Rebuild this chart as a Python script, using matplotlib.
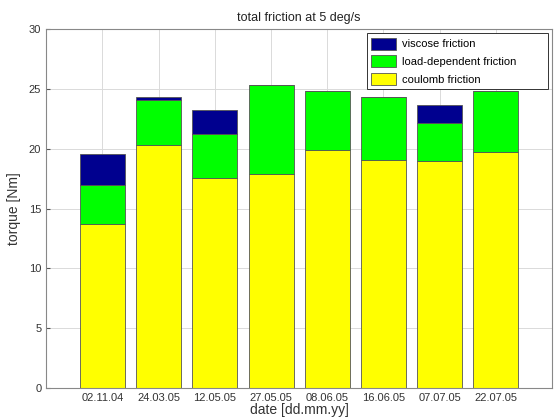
import numpy as np
import matplotlib.pyplot as plt

dates = ['02.11.04', '24.03.05', '12.05.05', '27.05.05', '08.06.05', '16.06.05', '07.07.05', '22.07.05']
coulomb = [13.7, 20.3, 17.6, 17.9, 19.9, 19.05, 18.95, 19.75]
load_dep = [3.25, 3.77, 3.6, 7.4, 4.9, 5.25, 3.2, 5.05]
viscose = [2.65, 0.28, 2.05, 0.05, 0.0, 0.0, 1.55, 0.0]

plt.rcParams['font.family'] = ['Liberation Sans', 'DejaVu Sans']
plt.rcParams['font.size'] = 8

fig = plt.figure(figsize=(5.56, 4.17), dpi=100)
ax = fig.add_axes([0.083, 0.0695, 0.910, 0.8605])

x = np.arange(1, len(dates) + 1)
c = np.array(coulomb)
l = np.array(load_dep)
v = np.array(viscose)

b1 = ax.bar(x, c, width=0.8, color='#ffff00', edgecolor='#555555', linewidth=0.6, label='coulomb friction')
b2 = ax.bar(x, l, width=0.8, bottom=c, color='#00ff00', edgecolor='#555555', linewidth=0.6, label='load-dependent friction')
b3 = ax.bar(x, v, width=0.8, bottom=c + l, color='#00008f', edgecolor='#555555', linewidth=0.6, label='viscose friction')

ax.set_xlim(0, 9)
ax.set_ylim(0, 30)
ax.set_xticks(x)
ax.set_xticklabels(dates)
ax.set_yticks(np.arange(0, 31, 5))
ax.set_axisbelow(True)
ax.grid(True, color='#dadada', linewidth=0.7)
ax.tick_params(direction='in', length=3, color='#555555', labelcolor='#333333')
for s in ax.spines.values():
    s.set_color('#888888')

ax.set_title('total friction at 5 deg/s', fontsize=9, color='#222222')
ax.set_xlabel('date [dd.mm.yy]', fontsize=10, color='#333333', labelpad=0)
ax.set_ylabel('torque [Nm]', fontsize=10, color='#333333', labelpad=6)

# matlab-style legend box, wider than its text
leg = ax.legend(handles=[b3, b2, b1], loc='upper left', mode='expand',
                bbox_to_anchor=(0.634, 0.844, 0.358, 0.145), borderaxespad=0,
                fancybox=False, framealpha=1, edgecolor='#333333', fontsize=8,
                handlelength=2.25, handleheight=1.3, borderpad=0.4, handletextpad=0.5)
leg.get_frame().set_linewidth(0.7)

fig.savefig('out.png', dpi=100)
